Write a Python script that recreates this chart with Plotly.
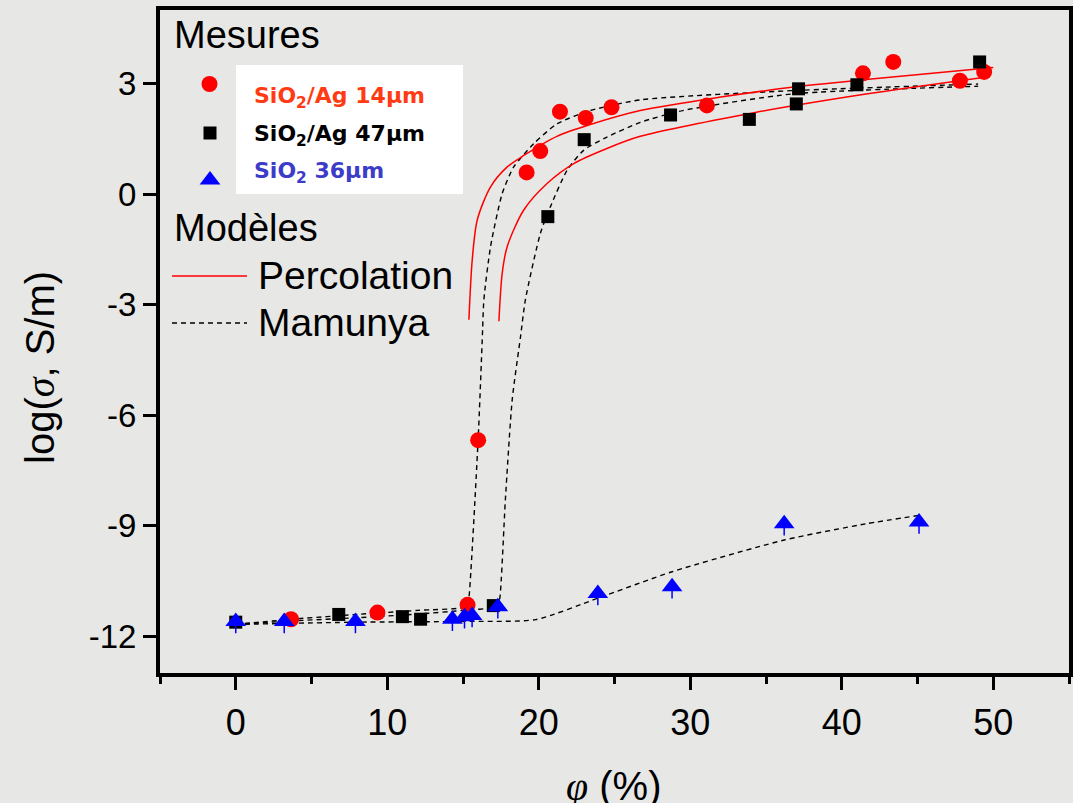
import plotly.graph_objects as go

# ---------------- data ----------------
# Measurements
ag14_x = [3.65, 9.35, 15.3, 16.0, 19.2, 20.1, 21.4, 23.1, 24.8, 31.1, 41.4, 43.4, 47.8, 49.4]
ag14_y = [-11.54, -11.36, -11.15, -6.68, 0.59, 1.17, 2.24, 2.07, 2.36, 2.41, 3.28, 3.59, 3.08, 3.32]

ag47_x = [0.0, 6.8, 11.0, 12.2, 17.0, 20.6, 23.0, 28.7, 33.9, 37.0, 37.15, 41.0, 49.1]
ag47_y = [-11.62, -11.41, -11.47, -11.54, -11.17, -0.61, 1.48, 2.15, 2.03, 2.45, 2.86, 2.97, 3.59]

sio2_x = [0.0, 3.2, 7.9, 14.3, 15.1, 15.6, 17.3, 23.9, 28.8, 36.2, 45.1]
sio2_y = [-11.6, -11.6, -11.6, -11.54, -11.47, -11.44, -11.2, -10.84, -10.66, -8.95, -8.9]

# Percolation model curves
perc14_x = [15.39, 15.61, 15.94, 16.82, 17.92, 19.01, 21.2, 23.4, 26.7, 31.9, 36.7, 41.6, 50.0]
perc14_y = [-3.41, -1.78, -0.70, 0.20, 0.74, 1.05, 1.57, 1.89, 2.27, 2.63, 2.90, 3.11, 3.44]

perc47_x = [17.37, 17.59, 17.92, 19.01, 20.55, 22.31, 24.5, 26.7, 34.3, 41.6, 49.7]
perc47_y = [-3.45, -2.14, -1.42, -0.43, 0.29, 0.83, 1.24, 1.57, 2.22, 2.72, 3.19]

# Mamunya model curves
mam14_x = [0, 4, 8, 12, 15.28, 15.39, 16.0, 16.27, 16.38, 16.82, 17.59, 18.35, 19.67, 21.2, 23.4, 26.7, 36.7, 49.0]
mam14_y = [-11.68, -11.53, -11.41, -11.3, -11.19, -10.97, -6.65, -3.95, -2.86, -1.42, 0.02, 0.74, 1.37, 1.91, 2.27, 2.56, 2.81, 2.99]

mam47_x = [0, 4, 8, 12, 15, 17.28, 17.43, 17.8, 18.25, 18.8, 19.12, 20.11, 20.77, 21.87, 22.96, 24.5, 26.7, 29.5, 36.7, 49.0]
mam47_y = [-11.68, -11.58, -11.5, -11.4, -11.3, -11.19, -10.97, -8.27, -5.57, -3.86, -2.86, -1.06, -0.34, 0.65, 1.19, 1.55, 1.95, 2.27, 2.72, 2.93]

mam36_x = [0, 8, 15, 19.8, 23.9, 28.8, 36.2, 41.6, 45.1]
mam36_y = [-11.68, -11.62, -11.6, -11.55, -10.97, -10.25, -9.39, -8.95, -8.72]

x_ticks = [0, 10, 20, 30, 40, 50]
y_ticks = [-12, -9, -6, -3, 0, 3]
y_tick_text = ["-12", "-9", "-6", "-3", "0", "3"]

legend_series = ["SiO<sub>2</sub>/Ag 14µm", "SiO<sub>2</sub>/Ag 47µm", "SiO<sub>2</sub> 36µm"]
legend_models = ["Percolation", "Mamunya"]

# ---------------- style ----------------
W, H = 1073, 803
L, R, T, B = 160, 4, 10, 130
BG = "#e7e7e5"
RED = "#ff0000"
BLUE = "#0000ff"
SANS = "Liberation Sans, Arial, sans-serif"
BOLD = "DejaVu Sans, sans-serif"
ERR_LEN = 0.32
PW, PH = W - L - R, H - T - B


def paper_x(px):
    return (px - L) / PW


def paper_y(py):
    return (H - B - py) / PH


fig = go.Figure()

dash = "5px,4px"
for xs, ys in [(mam14_x, mam14_y), (mam47_x, mam47_y), (mam36_x, mam36_y)]:
    fig.add_trace(go.Scatter(x=xs, y=ys, mode="lines",
                             line=dict(color="black", width=1.4, dash=dash, shape="spline", smoothing=0.6),
                             hoverinfo="skip", showlegend=False))
for xs, ys in [(perc14_x, perc14_y), (perc47_x, perc47_y)]:
    fig.add_trace(go.Scatter(x=xs, y=ys, mode="lines",
                             line=dict(color=RED, width=1.5, shape="spline", smoothing=0.8),
                             hoverinfo="skip", showlegend=False))

fig.add_trace(go.Scatter(x=ag14_x, y=ag14_y, mode="markers",
                         marker=dict(symbol="circle", size=16, color=RED, line=dict(width=0)),
                         showlegend=False))
fig.add_trace(go.Scatter(x=ag47_x, y=ag47_y, mode="markers",
                         marker=dict(symbol="square", size=13, color="black", line=dict(width=0)),
                         showlegend=False))
fig.add_trace(go.Scatter(x=sio2_x, y=sio2_y, mode="markers",
                         marker=dict(symbol="triangle-up", size=18, color=BLUE, line=dict(width=0)),
                         error_y=dict(type="data", symmetric=False, array=[0] * len(sio2_x),
                                      arrayminus=[ERR_LEN] * len(sio2_x), width=0, thickness=1.5, color=BLUE),
                         showlegend=False))

# legend markers on a pixel-based overlay axis
fig.add_trace(go.Scatter(x=[209.5], y=[84], xaxis="x2", yaxis="y2", mode="markers",
                         marker=dict(symbol="circle", size=16, color=RED), showlegend=False, hoverinfo="skip"))
fig.add_trace(go.Scatter(x=[210], y=[133], xaxis="x2", yaxis="y2", mode="markers",
                         marker=dict(symbol="square", size=13, color="black"), showlegend=False, hoverinfo="skip"))
fig.add_trace(go.Scatter(x=[210], y=[180], xaxis="x2", yaxis="y2", mode="markers",
                         marker=dict(symbol="triangle-up", size=18, color=BLUE), showlegend=False, hoverinfo="skip"))

shapes = [
    dict(type="rect", xref="x2", yref="y2", x0=236, x1=463, y0=65, y1=194,
         fillcolor="white", line=dict(width=0), layer="below"),
    dict(type="line", xref="x2", yref="y2", x0=172, x1=247, y0=276, y1=276,
         line=dict(color=RED, width=1.5)),
    dict(type="line", xref="x2", yref="y2", x0=172, x1=247, y0=323, y1=323,
         line=dict(color="black", width=1.4, dash=dash)),
]


def ann(text, px, py, size, color="black", family=SANS, xanchor="left", yanchor="middle", angle=0):
    return dict(text=text, x=paper_x(px), y=paper_y(py), xref="paper", yref="paper", showarrow=False,
                xanchor=xanchor, yanchor=yanchor, textangle=angle,
                font=dict(size=size, color=color, family=family))


annotations = [
    ann("Mesures", 172, 35, 38),
    ann("Modèles", 172, 228, 38),
    ann(legend_models[0], 256, 275, 39),
    ann(legend_models[1], 256, 322, 39),
    ann("<b>" + legend_series[0] + "</b>", 252, 98, 22, color="#ff3b14", family=BOLD),
    ann("<b>" + legend_series[1] + "</b>", 252, 135, 22, color="black", family=BOLD),
    ann("<b>" + legend_series[2] + "</b>", 252, 172, 22, color="#3c3cc8", family=BOLD),
    ann('log(<span style="font-family:Liberation Serif"><i>σ</i></span>, S/m)', 40, 368, 40,
        xanchor="center", angle=-90),
    ann('<span style="font-family:Liberation Serif"><i>φ</i></span> (%)', 613, 786, 40,
        xanchor="center"),
]

fig.update_layout(
    width=W, height=H,
    margin=dict(l=L, r=R, t=T, b=B, pad=0, autoexpand=False),
    paper_bgcolor=BG, plot_bgcolor=BG,
    showlegend=False,
    shapes=shapes,
    annotations=annotations,
    font=dict(family=SANS, color="black"),
    xaxis=dict(range=[-5, 55], tickvals=x_ticks, ticks="outside", ticklen=13, tickwidth=3,
               tickcolor="black", showline=True, linewidth=4, linecolor="black", mirror=True,
               showgrid=False, zeroline=False, ticklabelstandoff=2, automargin=False,
               tickfont=dict(size=36, family=SANS, color="black"),
               minor=dict(tickvals=[-5, 5, 15, 25, 35, 45, 55], ticks="outside", ticklen=7,
                          tickwidth=3, tickcolor="black", showgrid=False)),
    yaxis=dict(range=[-13, 5], tickvals=y_ticks, ticktext=y_tick_text, ticks="outside", ticklen=13,
               tickwidth=3, tickcolor="black", showline=True, linewidth=4, linecolor="black",
               mirror="ticks", showgrid=False, zeroline=False, automargin=False,
               tickfont=dict(size=33, family=SANS, color="black")),
    xaxis2=dict(range=[L, W - R], overlaying="x", visible=False, fixedrange=True),
    yaxis2=dict(range=[H - B, T], overlaying="y", visible=False, fixedrange=True),
)

fig.write_html("out.html")
